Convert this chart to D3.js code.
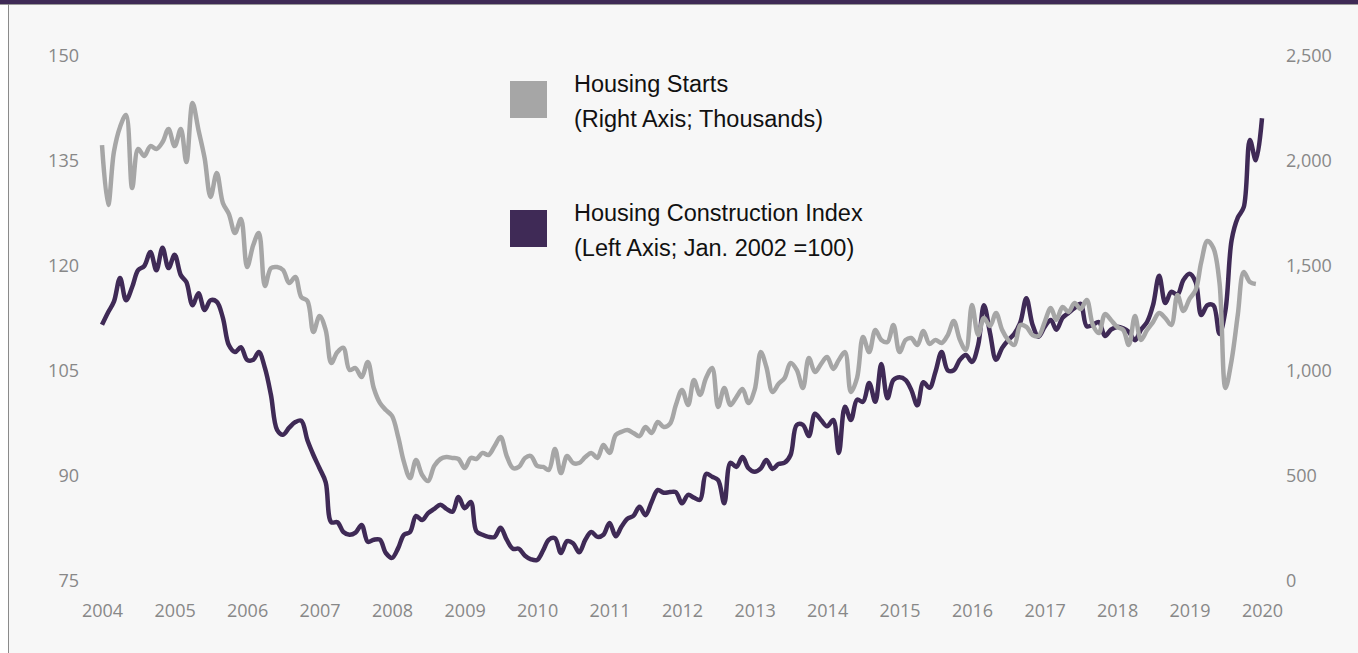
<!doctype html>
<html>
  <head>
    <meta charset="utf-8" />
    <title>Housing Starts vs Housing Construction Index</title>
    <script type="text/javascript" src="https://cdnjs.cloudflare.com/ajax/libs/d3/7.8.5/d3.min.js"></script>
    <style>
      body {
        margin:0;
        background:#ffffff;
      }
      .chart > svg {
        display:block;
      }
      .tick text {
        font-family:"Open Sans", sans-serif;
        font-size:18px;
        fill:#888888;
      }
      .legend text {
        font-family:"Liberation Sans", Arial, sans-serif;
        font-size:23.5px;
        fill:#111111;
      }
    </style>
  </head>
  <body>
    <div class="chart"></div>
    <script type="text/javascript">

(function() {

/*monthly values, first month is Jan. 2004*/
var start_year = 2004;

/*housing starts, thousands (right axis), Jan 2004 - Dec 2019*/
var housing_starts = [
  2076, 1790, 2043, 2162, 2219, 1871, 2057, 2024, 2071, 2057, 2090, 2152,
  2071, 2152, 1995, 2276, 2148, 2014, 1829, 1943, 1800, 1748, 1657, 1724,
  1495, 1600, 1657, 1405, 1490, 1495, 1481, 1419, 1448, 1352, 1333, 1186,
  1262, 1195, 1038, 1090, 1110, 1005, 1014, 971, 1043, 919, 848, 814,
  786, 686, 567, 490, 576, 505, 476, 548, 581, 590, 586, 581,
  538, 586, 581, 610, 600, 643, 686, 595, 538, 543, 586, 595,
  548, 543, 529, 629, 514, 595, 562, 562, 590, 610, 586, 648,
  610, 695, 710, 719, 705, 690, 733, 705, 757, 733, 748, 838,
  910, 838, 957, 886, 967, 1014, 829, 919, 838, 876, 914, 848,
  910, 1090, 1019, 900, 938, 967, 1038, 1005, 919, 1062, 995, 1033,
  1067, 1010, 1052, 1090, 900, 967, 1162, 1090, 1195, 1148, 1138, 1219,
  1090, 1148, 1157, 1124, 1190, 1129, 1148, 1133, 1171, 1238, 1148, 1100,
  1314, 1171, 1252, 1214, 1276, 1195, 1148, 1124, 1219, 1210, 1171, 1167,
  1233, 1300, 1243, 1305, 1281, 1324, 1295, 1338, 1219, 1181, 1271, 1243,
  1210, 1195, 1124, 1262, 1148, 1195, 1233, 1276, 1252, 1219, 1362, 1286,
  1343, 1386, 1519, 1619, 1586, 1419, 919, 1052, 1267, 1471, 1424, 1414
];

/*housing construction index, Jan. 2002 = 100 (left axis), Jan 2004 - Jan 2020*/
var construction_index = [
  111.6, 113.4, 114.9, 118.3, 115.1, 117.0, 119.4, 120.0, 122.0, 119.4, 122.6, 119.7,
  121.6, 118.7, 117.7, 114.4, 116.1, 113.7, 115.1, 114.9, 112.6, 108.7, 107.7, 108.4,
  106.6, 106.6, 107.7, 105.4, 101.6, 96.6, 95.9, 96.9, 97.7, 97.9, 95.1, 93.0,
  91.1, 89.1, 83.4, 83.4, 82.0, 81.6, 81.9, 83.0, 80.6, 80.9, 80.9, 79.0,
  78.3, 79.7, 81.6, 82.0, 84.3, 83.7, 84.7, 85.3, 85.9, 85.3, 84.9, 87.0,
  85.4, 86.3, 82.1, 81.6, 81.3, 81.3, 82.6, 80.9, 79.6, 79.6, 78.6, 78.1,
  78.0, 79.4, 80.9, 81.1, 79.0, 80.7, 80.4, 79.1, 80.9, 82.0, 81.3, 81.6,
  83.3, 81.4, 82.7, 83.9, 84.3, 85.6, 84.4, 86.3, 88.0, 87.6, 87.7, 87.7,
  86.1, 87.3, 86.9, 86.6, 90.3, 89.9, 89.4, 86.1, 91.9, 91.3, 92.7, 91.1,
  90.6, 91.1, 92.3, 91.0, 91.7, 91.9, 93.0, 97.3, 97.3, 95.7, 98.9, 98.0,
  97.1, 98.0, 93.3, 99.9, 98.0, 100.9, 100.6, 103.3, 100.6, 106.0, 101.1, 103.7,
  104.1, 103.7, 102.3, 100.1, 103.4, 102.6, 104.9, 107.7, 105.1, 105.1, 106.6, 107.3,
  106.3, 108.7, 114.4, 110.4, 106.6, 108.3, 109.4, 110.3, 112.0, 115.4, 111.6, 109.9,
  111.3, 112.3, 110.9, 112.6, 113.3, 114.0, 114.6, 111.4, 111.6, 112.0, 110.0, 110.9,
  111.3, 111.1, 110.6, 109.4, 110.9, 112.0, 114.4, 118.6, 114.7, 116.3, 115.9, 118.0,
  118.9, 117.7, 113.0, 114.4, 114.4, 110.3, 113.7, 123.7, 126.9, 128.4, 138.0, 135.1,
  141.1
];

/*tick labels*/
var year_ticks = d3.range(2004, 2021);
var left_ticks = [75, 90, 105, 120, 135, 150];
var right_ticks = [0, 500, 1000, 1500, 2000, 2500];

/*legend entries*/
var legend_items = [
  {lines: ["Housing Starts", "(Right Axis; Thousands)"], color: "#a6a6a6"},
  {lines: ["Housing Construction Index", "(Left Axis; Jan. 2002 =100)"], color: "#3f2a56"}
];

var g = {};
g.width = 1358;
g.height = 653;

function main() {

  g.svg = d3.select(".chart").append("svg")
    .attr("width", g.width)
    .attr("height", g.height);

  draw_frame();

  /*one scale for time, one for each vertical axis*/
  g.x = d3.scaleTime()
    .domain([new Date(2004, 0, 1), new Date(2020, 0, 1)])
    .range([102, 1262]);
  g.y_left = d3.scaleLinear().domain([75, 150]).range([581, 56]);
  g.y_right = d3.scaleLinear().domain([0, 2500]).range([581, 56]);

  draw_axes();
  draw_lines();
  draw_legend();
}

/*light panel with a dark strip on top and a thin border at left*/
function draw_frame() {
  var svg = g.svg;
  svg.append("rect")
    .attr("x", 9).attr("y", 0)
    .attr("width", g.width - 9).attr("height", g.height)
    .attr("fill", "#f7f7f7");
  svg.append("rect")
    .attr("x", 0).attr("y", 0)
    .attr("width", g.width).attr("height", 4)
    .attr("fill", "#3f2a56");
  svg.append("line")
    .attr("x1", 0).attr("x2", g.width)
    .attr("y1", 4.5).attr("y2", 4.5)
    .attr("stroke", "#9a9a9a");
  svg.append("line")
    .attr("x1", 8.5).attr("x2", 8.5)
    .attr("y1", 4).attr("y2", g.height)
    .attr("stroke", "#8a8a8a");
}

function draw_axes() {
  var svg = g.svg;

  var left = svg.append("g")
    .attr("transform", "translate(79,0)")
    .call(d3.axisLeft(g.y_left).tickValues(left_ticks).tickSize(0).tickPadding(0));

  var right = svg.append("g")
    .attr("transform", "translate(1286,0)")
    .call(d3.axisRight(g.y_right).tickValues(right_ticks)
      .tickFormat(d3.format(",")).tickSize(0).tickPadding(0));

  var bottom = svg.append("g")
    .attr("transform", "translate(0,604)")
    .call(d3.axisBottom(g.x)
      .tickValues(year_ticks.map(function(y) { return new Date(y, 0, 1); }))
      .tickFormat(d3.timeFormat("%Y")).tickSize(0).tickPadding(0));

  /*no axis lines in the original, just the labels*/
  [left, right, bottom].forEach(function(axis) {
    axis.select(".domain").remove();
    axis.attr("font-family", null).attr("font-size", null);
  });
}

function month_date(i) {
  return new Date(start_year, i, 1);
}

function draw_lines() {
  var svg = g.svg;

  var line_left = d3.line()
    .x(function(d, i) { return g.x(month_date(i)); })
    .y(function(d) { return g.y_left(d); })
    .curve(d3.curveCatmullRom.alpha(0.5));

  var line_right = d3.line()
    .x(function(d, i) { return g.x(month_date(i)); })
    .y(function(d) { return g.y_right(d); })
    .curve(d3.curveCatmullRom.alpha(0.5));

  svg.append("path")
    .datum(construction_index)
    .attr("fill", "none")
    .attr("stroke", legend_items[1].color)
    .attr("stroke-width", 4.5)
    .attr("stroke-linejoin", "round")
    .attr("d", line_left);

  /*starts sit on the secondary axis and are drawn over the index*/
  svg.append("path")
    .datum(housing_starts)
    .attr("fill", "none")
    .attr("stroke", legend_items[0].color)
    .attr("stroke-width", 4.5)
    .attr("stroke-linejoin", "round")
    .attr("d", line_right);
}

function draw_legend() {
  var legend = g.svg.append("g").attr("class", "legend");

  var items = legend.selectAll("g.item")
    .data(legend_items)
    .enter()
    .append("g")
    .attr("class", "item")
    .attr("transform", function(d, i) { return "translate(510," + (81 + i * 129) + ")"; });

  items.append("rect")
    .attr("width", 37).attr("height", 37)
    .attr("fill", function(d) { return d.color; });

  items.selectAll("text")
    .data(function(d) { return d.lines; })
    .enter()
    .append("text")
    .attr("x", 64)
    .attr("y", function(d, i) { return 11 + i * 35; })
    .text(function(d) { return d; });
}

document.addEventListener("DOMContentLoaded", main);

})();

    </script>
  </body>
</html>
